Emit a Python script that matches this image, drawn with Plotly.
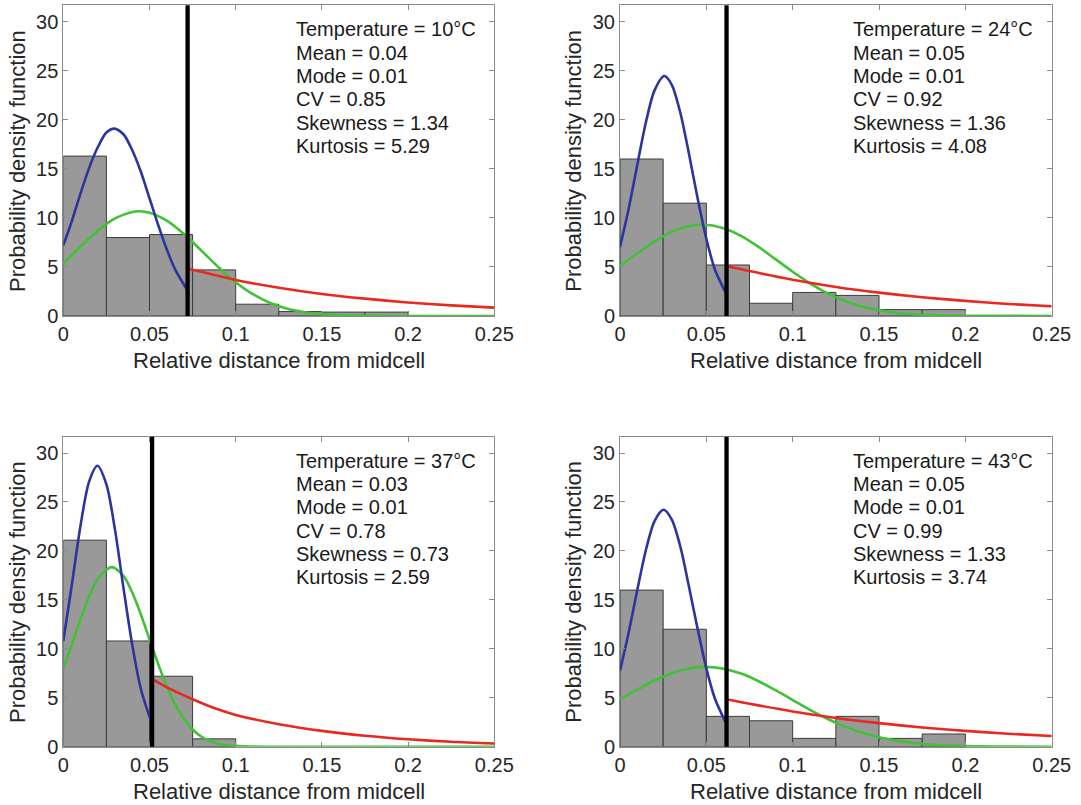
import plotly.graph_objects as go

# ---------------- data ----------------
temperatures = ["10", "24", "37", "43"]
means = ["0.04", "0.05", "0.03", "0.05"]
modes = ["0.01", "0.01", "0.01", "0.01"]
cvs = ["0.85", "0.92", "0.78", "0.99"]
skewness = ["1.34", "1.36", "0.73", "1.33"]
kurtosis = ["5.29", "4.08", "2.59", "3.74"]

bin_edges = [0, 0.025, 0.05, 0.075, 0.1, 0.125, 0.15, 0.175, 0.2]
hist_10 = [16.3, 8.0, 8.3, 4.7, 1.2, 0.45, 0.4, 0.4]
hist_24 = [16.0, 11.5, 5.2, 1.3, 2.4, 2.1, 0.65, 0.65]
hist_37 = [21.1, 10.8, 7.2, 0.8, 0, 0, 0, 0]
hist_43 = [16.0, 12.0, 3.1, 2.65, 0.85, 3.1, 0.85, 1.3]

thresholds = [0.0721, 0.0617, 0.0515, 0.0617]

blue_x_10 = [0, 0.005, 0.01, 0.015, 0.02, 0.025, 0.0296, 0.035, 0.04, 0.045, 0.05, 0.055, 0.06, 0.065, 0.0721]
blue_y_10 = [7.2, 9.7, 12.5, 15.1, 17.2, 18.7, 19.1, 18.5, 16.9, 14.7, 12.0, 9.3, 6.8, 4.7, 2.6]
green_x_10 = [0, 0.01, 0.02, 0.03, 0.04, 0.0439, 0.05, 0.06, 0.07, 0.08, 0.09, 0.1, 0.11, 0.12, 0.13, 0.14, 0.15, 0.16, 0.17, 0.18, 0.2, 0.25]
green_y_10 = [5.33, 7.06, 8.69, 9.95, 10.61, 10.67, 10.53, 9.72, 8.35, 6.68, 4.97, 3.45, 2.22, 1.33, 0.74, 0.39, 0.19, 0.08, 0.04, 0.01, 0, 0]
red_x_10 = [0.0721, 0.075, 0.1, 0.125, 0.15, 0.175, 0.2, 0.225, 0.25]
red_y_10 = [4.8, 4.71, 3.68, 2.88, 2.25, 1.77, 1.38, 1.08, 0.85]

blue_x_24 = [0, 0.005, 0.01, 0.015, 0.02, 0.0256, 0.03, 0.035, 0.04, 0.045, 0.05, 0.055, 0.0617]
blue_y_24 = [7.04, 10.9, 15.4, 19.75, 23.0, 24.46, 23.57, 20.67, 16.48, 11.94, 7.87, 4.72, 2.2]
green_x_24 = [0, 0.01, 0.02, 0.03, 0.04, 0.0477, 0.06, 0.07, 0.08, 0.09, 0.1, 0.11, 0.12, 0.13, 0.14, 0.15, 0.16, 0.17, 0.18, 0.19, 0.2, 0.25]
green_y_24 = [5.1, 6.39, 7.6, 8.58, 9.17, 9.32, 8.95, 8.17, 7.07, 5.8, 4.51, 3.33, 2.33, 1.54, 0.97, 0.58, 0.33, 0.18, 0.09, 0.04, 0.02, 0]
red_x_24 = [0.0617, 0.075, 0.1, 0.125, 0.15, 0.175, 0.2, 0.225, 0.25]
red_y_24 = [5.1, 4.58, 3.69, 2.96, 2.38, 1.91, 1.54, 1.23, 0.99]

blue_x_37 = [0, 0.005, 0.01, 0.015, 0.0198, 0.025, 0.03, 0.035, 0.04, 0.045, 0.0515]
blue_y_37 = [10.8, 16.6, 22.6, 27.1, 28.7, 26.8, 22.15, 16.1, 10.4, 5.9, 2.3]
green_x_37 = [0, 0.005, 0.01, 0.015, 0.02, 0.028, 0.035, 0.04, 0.045, 0.05, 0.055, 0.06, 0.065, 0.07, 0.075, 0.08, 0.085, 0.09, 0.1, 0.11, 0.12, 0.25]
green_y_37 = [7.98, 10.46, 13.01, 15.34, 17.14, 18.35, 17.42, 15.75, 13.5, 10.97, 8.46, 6.19, 4.29, 2.82, 1.76, 1.04, 0.58, 0.31, 0.08, 0.02, 0, 0]
red_x_37 = [0.0515, 0.0625, 0.075, 0.0875, 0.1, 0.125, 0.15, 0.175, 0.2, 0.225, 0.25]
red_y_37 = [6.9, 5.85, 4.85, 3.95, 3.25, 2.3, 1.62, 1.12, 0.76, 0.5, 0.33]

blue_x_43 = [0, 0.005, 0.01, 0.015, 0.02, 0.0252, 0.03, 0.035, 0.04, 0.045, 0.05, 0.055, 0.0617]
blue_y_43 = [7.75, 11.65, 16.0, 20.1, 23.05, 24.2, 23.2, 20.4, 16.3, 12.0, 8.0, 4.9, 2.3]
green_x_43 = [0, 0.01, 0.02, 0.03, 0.04, 0.0497, 0.06, 0.07, 0.08, 0.09, 0.1, 0.11, 0.12, 0.13, 0.14, 0.15, 0.16, 0.17, 0.18, 0.19, 0.2, 0.21, 0.22, 0.25]
green_y_43 = [4.83, 5.84, 6.76, 7.51, 7.99, 8.15, 7.97, 7.47, 6.71, 5.78, 4.77, 3.77, 2.86, 2.08, 1.45, 0.97, 0.62, 0.38, 0.22, 0.13, 0.07, 0.035, 0.017, 0]
red_x_43 = [0.0617, 0.075, 0.1, 0.125, 0.15, 0.175, 0.2, 0.225, 0.25]
red_y_43 = [4.85, 4.39, 3.6, 2.94, 2.41, 1.97, 1.62, 1.32, 1.09]

x_tick_vals = [0, 0.05, 0.1, 0.15, 0.2, 0.25]
x_tick_text = ["0", "0.05", "0.1", "0.15", "0.2", "0.25"]
y_tick_vals = [0, 5, 10, 15, 20, 25, 30]
x_title = "Relative distance from midcell"
y_title = "Probability density function"

# ---------------- figure ----------------
W, H = 1081, 805
FONT = "Liberation Sans, Arial, Helvetica, sans-serif"

hists = [hist_10, hist_24, hist_37, hist_43]
blues = [(blue_x_10, blue_y_10), (blue_x_24, blue_y_24), (blue_x_37, blue_y_37), (blue_x_43, blue_y_43)]
greens = [(green_x_10, green_y_10), (green_x_24, green_y_24), (green_x_37, green_y_37), (green_x_43, green_y_43)]
reds = [(red_x_10, red_y_10), (red_x_24, red_y_24), (red_x_37, red_y_37), (red_x_43, red_y_43)]

# panel rectangles in pixels (left, right, top, bottom)
px_boxes = [(63.3, 494.3, 5.3, 316.0), (620.0, 1051.7, 5.3, 316.0),
            (63.3, 494.3, 436.7, 746.7), (620.0, 1051.7, 436.7, 746.7)]

fig = go.Figure()
layout_axes = {}
annotations = []
shapes = []

for i in range(4):
    n = i + 1
    sfx = "" if n == 1 else str(n)
    xa, ya = f"x{sfx}", f"y{sfx}"
    l, r, t, b = px_boxes[i]
    pw, ph = r - l, b - t

    centers, heights = [], []
    for k, h in enumerate(hists[i]):
        if h > 0:
            centers.append((bin_edges[k] + bin_edges[k + 1]) / 2)
            heights.append(h)
    fig.add_trace(go.Bar(x=centers, y=heights, width=bin_edges[1] - bin_edges[0],
                         marker=dict(color="#999999", line=dict(color="#3c3c3c", width=1)),
                         xaxis=xa, yaxis=ya, showlegend=False, hoverinfo="skip"))

    fig.add_trace(go.Scatter(x=greens[i][0], y=greens[i][1], mode="lines",
                             line=dict(color="#41c236", width=2.6, shape="spline", smoothing=0.8),
                             xaxis=xa, yaxis=ya, showlegend=False))
    fig.add_trace(go.Scatter(x=blues[i][0], y=blues[i][1], mode="lines",
                             line=dict(color="#2a369e", width=2.6, shape="spline", smoothing=0.8),
                             xaxis=xa, yaxis=ya, showlegend=False))
    fig.add_trace(go.Scatter(x=reds[i][0], y=reds[i][1], mode="lines",
                             line=dict(color="#e8291f", width=2.6, shape="spline", smoothing=0.8),
                             xaxis=xa, yaxis=ya, showlegend=False))

    shapes.append(dict(type="line", xref=xa, yref=f"{ya} domain", x0=thresholds[i], x1=thresholds[i],
                       y0=0, y1=1, line=dict(color="black", width=4.3), layer="above"))

    common = dict(showline=True, linecolor="#8c8c8c", linewidth=1, mirror="ticks",
                  ticks="inside", ticklen=5, tickcolor="#8c8c8c", tickwidth=1,
                  showgrid=False, zeroline=False, automargin=False, fixedrange=True,
                  tickfont=dict(family=FONT, size=20, color="#262626"))
    layout_axes[f"xaxis{sfx}"] = dict(common, domain=[l / W, r / W], anchor=ya, range=[0, 0.25],
                                      tickmode="array", tickvals=x_tick_vals, ticktext=x_tick_text)
    layout_axes[f"yaxis{sfx}"] = dict(common, domain=[1 - b / H, 1 - t / H], anchor=xa, range=[0, 31.67],
                                      tickmode="array", tickvals=y_tick_vals)

    lines = [f"Temperature = {temperatures[i]}°C", f"Mean = {means[i]}", f"Mode = {modes[i]}",
             f"CV = {cvs[i]}", f"Skewness = {skewness[i]}", f"Kurtosis = {kurtosis[i]}"]
    for k, txt in enumerate(lines):
        annotations.append(dict(text=txt, xref=xa, yref=f"{ya} domain", x=0.134,
                                y=1 - (24 + 23.3 * k) / ph, xanchor="left", yanchor="middle",
                                showarrow=False, font=dict(family=FONT, size=20, color="#1a1a1a")))

    annotations.append(dict(text=x_title, xref=f"{xa} domain", yref=f"{ya} domain", x=0.5,
                            y=-45 / ph, xanchor="center", yanchor="middle", showarrow=False,
                            font=dict(family=FONT, size=22, color="#262626")))
    annotations.append(dict(text=y_title, xref=f"{xa} domain", yref=f"{ya} domain", x=-46 / pw,
                            y=0.5, xanchor="center", yanchor="middle", textangle=-90, showarrow=False,
                            font=dict(family=FONT, size=22, color="#262626")))

fig.update_layout(width=W, height=H, margin=dict(l=0, r=0, t=0, b=0),
                  paper_bgcolor="white", plot_bgcolor="white", showlegend=False,
                  annotations=annotations, shapes=shapes, barmode="overlay", **layout_axes)

fig.write_html("out.html")
